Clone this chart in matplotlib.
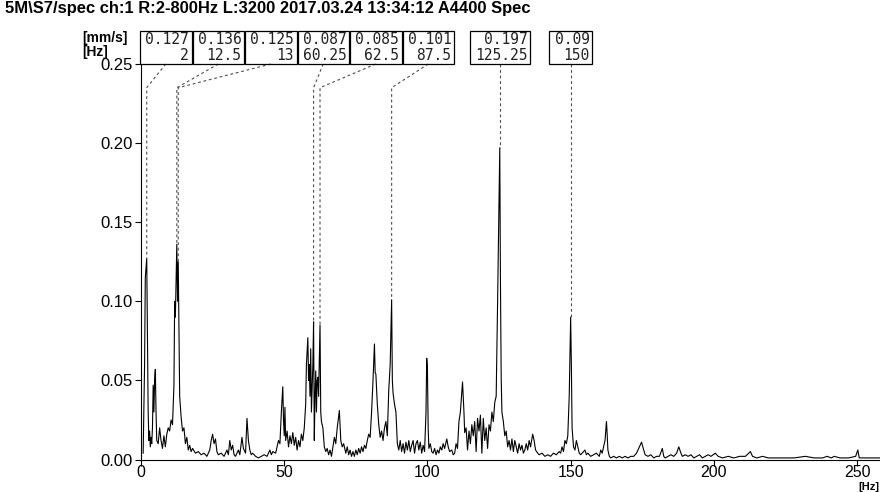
import matplotlib
matplotlib.use("Agg")
import matplotlib.pyplot as plt
from matplotlib.patches import Rectangle
from matplotlib.ticker import FormatStrFormatter

# spectrum: (frequency [Hz], amplitude [mm/s])
spectrum = [
    (0.75, 0.004), (1.25, 0.06), (1.5, 0.115), (2.0, 0.127), (2.25, 0.08), (2.5, 0.03),
    (2.75, 0.012), (3.0, 0.018), (3.25, 0.008), (3.5, 0.014), (3.75, 0.01), (4.0, 0.02),
    (4.25, 0.047), (4.5, 0.03), (4.75, 0.05), (5.0, 0.057), (5.25, 0.03), (5.5, 0.012),
    (6.0, 0.01), (6.5, 0.02), (7.0, 0.012), (7.5, 0.007), (8.0, 0.015), (8.5, 0.008),
    (9.0, 0.016), (9.5, 0.02), (10.0, 0.018), (10.5, 0.025), (11.0, 0.022), (11.5, 0.047),
    (11.75, 0.1), (12.0, 0.09), (12.5, 0.136), (12.75, 0.1), (13.0, 0.125), (13.25, 0.085),
    (13.5, 0.04), (14.0, 0.027), (14.5, 0.018), (15.0, 0.02), (15.5, 0.01), (16.0, 0.014),
    (16.5, 0.006), (17.0, 0.009), (17.5, 0.005), (18.0, 0.007), (19.0, 0.004), (20.0, 0.005),
    (21.0, 0.003), (22.0, 0.004), (23.0, 0.002), (24.0, 0.006), (24.5, 0.012), (25.0, 0.016),
    (25.5, 0.01), (26.0, 0.013), (26.5, 0.005), (27.0, 0.003), (28.0, 0.004), (29.0, 0.002),
    (30.0, 0.006), (30.5, 0.003), (31.0, 0.012), (31.5, 0.006), (32.0, 0.009), (32.5, 0.003),
    (33.0, 0.002), (34.0, 0.006), (34.5, 0.003), (35.25, 0.014), (35.75, 0.007), (36.5, 0.004),
    (37.0, 0.026), (37.5, 0.012), (38.0, 0.006), (38.5, 0.003), (39.0, 0.004), (40.0, 0.002),
    (41.0, 0.001), (42.0, 0.002), (43.0, 0.003), (44.0, 0.002), (45.0, 0.006), (45.5, 0.003),
    (46.0, 0.005), (47.0, 0.004), (47.5, 0.008), (48.0, 0.012), (48.5, 0.01), (49.0, 0.03),
    (49.5, 0.046), (49.75, 0.025), (50.0, 0.015), (50.25, 0.033), (50.5, 0.012), (51.0, 0.018),
    (51.5, 0.008), (52.0, 0.015), (52.5, 0.01), (53.0, 0.017), (53.5, 0.009), (54.0, 0.014),
    (54.5, 0.006), (55.0, 0.012), (55.5, 0.008), (56.0, 0.016), (56.5, 0.012), (57.0, 0.02),
    (57.5, 0.035), (57.75, 0.06), (58.25, 0.077), (58.5, 0.05), (58.75, 0.06), (59.0, 0.04),
    (59.25, 0.07), (59.5, 0.03), (60.0, 0.06), (60.25, 0.087), (60.5, 0.012), (60.75, 0.04),
    (61.0, 0.056), (61.25, 0.03), (61.5, 0.05), (61.75, 0.052), (62.0, 0.04), (62.5, 0.085),
    (62.75, 0.03), (63.0, 0.024), (63.5, 0.02), (64.0, 0.008), (64.5, 0.005), (65.0, 0.007),
    (65.5, 0.003), (66.0, 0.006), (66.5, 0.002), (67.0, 0.008), (67.5, 0.014), (68.0, 0.01),
    (68.5, 0.02), (69.25, 0.031), (69.75, 0.012), (70.25, 0.008), (70.75, 0.01), (71.5, 0.004),
    (72.0, 0.008), (72.5, 0.003), (73.0, 0.006), (73.5, 0.002), (74.0, 0.005), (74.5, 0.002),
    (75.0, 0.006), (75.5, 0.003), (76.0, 0.007), (76.5, 0.004), (77.0, 0.008), (77.5, 0.005),
    (78.0, 0.009), (78.5, 0.007), (79.0, 0.012), (79.5, 0.016), (80.0, 0.014), (80.5, 0.03),
    (81.0, 0.05), (81.5, 0.073), (81.75, 0.055), (82.0, 0.054), (82.5, 0.035), (83.0, 0.022),
    (83.5, 0.014), (84.0, 0.018), (84.5, 0.012), (85.0, 0.02), (85.5, 0.024), (86.0, 0.015),
    (86.5, 0.044), (87.0, 0.06), (87.5, 0.101), (87.75, 0.05), (88.0, 0.042), (88.5, 0.035),
    (89.0, 0.03), (89.5, 0.01), (90.0, 0.006), (90.5, 0.012), (91.0, 0.005), (91.5, 0.01),
    (92.0, 0.004), (92.5, 0.011), (93.0, 0.006), (93.5, 0.012), (94.0, 0.005), (94.5, 0.009),
    (95.0, 0.012), (95.5, 0.004), (96.0, 0.01), (96.5, 0.012), (97.0, 0.006), (97.5, 0.011),
    (98.0, 0.004), (98.5, 0.009), (99.0, 0.005), (99.5, 0.03), (99.75, 0.064), (100.0, 0.058),
    (100.25, 0.02), (100.5, 0.007), (101.0, 0.01), (101.5, 0.005), (102.0, 0.004), (102.5, 0.007),
    (103.0, 0.003), (103.5, 0.006), (104.0, 0.004), (104.5, 0.008), (105.0, 0.006), (105.5, 0.01),
    (106.0, 0.007), (106.75, 0.013), (107.25, 0.008), (107.75, 0.005), (108.5, 0.006), (109.0, 0.003),
    (109.5, 0.004), (110.0, 0.01), (110.5, 0.007), (111.0, 0.024), (111.5, 0.03), (112.25, 0.049),
    (112.75, 0.03), (113.0, 0.017), (113.5, 0.02), (114.0, 0.006), (114.5, 0.018), (115.0, 0.01),
    (115.5, 0.022), (116.0, 0.015), (116.5, 0.024), (117.0, 0.005), (117.5, 0.026), (118.0, 0.018),
    (118.5, 0.028), (119.0, 0.004), (119.5, 0.026), (120.0, 0.012), (120.5, 0.02), (121.0, 0.007),
    (121.5, 0.022), (122.0, 0.018), (122.5, 0.03), (123.0, 0.024), (123.5, 0.036), (124.0, 0.04),
    (124.5, 0.1), (125.25, 0.197), (125.5, 0.11), (125.75, 0.052), (126.0, 0.03), (126.5, 0.024),
    (127.0, 0.015), (127.5, 0.018), (128.0, 0.008), (128.5, 0.012), (129.0, 0.006), (129.5, 0.013),
    (130.0, 0.005), (130.5, 0.012), (131.0, 0.008), (131.5, 0.004), (132.0, 0.01), (132.5, 0.006),
    (133.0, 0.009), (133.5, 0.004), (134.0, 0.006), (134.5, 0.01), (135.0, 0.006), (135.5, 0.012),
    (136.0, 0.008), (136.75, 0.016), (137.25, 0.012), (137.75, 0.006), (138.5, 0.004), (139.0, 0.003),
    (140.0, 0.004), (141.0, 0.002), (142.0, 0.003), (143.0, 0.002), (144.0, 0.004), (145.0, 0.003),
    (146.0, 0.005), (146.5, 0.004), (147.0, 0.008), (147.5, 0.005), (148.0, 0.012), (148.5, 0.01),
    (149.0, 0.015), (149.5, 0.04), (150.0, 0.09), (150.25, 0.06), (150.5, 0.02), (151.0, 0.008),
    (151.5, 0.006), (152.0, 0.012), (152.5, 0.008), (153.0, 0.004), (153.5, 0.003), (154.0, 0.004),
    (155.0, 0.006), (155.5, 0.003), (156.0, 0.004), (157.0, 0.002), (158.0, 0.003), (159.0, 0.004),
    (160.0, 0.002), (160.5, 0.006), (161.0, 0.004), (161.5, 0.008), (162.0, 0.012), (162.5, 0.024),
    (162.75, 0.016), (163.0, 0.006), (163.5, 0.002), (164.0, 0.001), (165.0, 0.002), (166.0, 0.001),
    (167.0, 0.002), (168.0, 0.001), (169.0, 0.002), (170.0, 0.001), (171.0, 0.002), (172.0, 0.002),
    (173.0, 0.004), (174.0, 0.008), (174.75, 0.011), (175.5, 0.006), (176.0, 0.003), (177.0, 0.002),
    (178.0, 0.003), (179.0, 0.001), (180.0, 0.002), (181.0, 0.002), (182.0, 0.007), (182.5, 0.002),
    (183.0, 0.001), (184.0, 0.002), (185.0, 0.003), (186.0, 0.002), (187.0, 0.004), (187.75, 0.008),
    (188.5, 0.004), (189.0, 0.002), (190.0, 0.003), (191.0, 0.002), (192.0, 0.003), (193.0, 0.001),
    (194.0, 0.002), (195.0, 0.003), (196.0, 0.001), (197.0, 0.002), (198.0, 0.003), (199.0, 0.002),
    (200.5, 0.004), (201.5, 0.002), (203.0, 0.001), (205.0, 0.002), (207.0, 0.001), (209.0, 0.002),
    (211.0, 0.002), (212.75, 0.005), (213.5, 0.002), (215.0, 0.001), (217.0, 0.002), (219.0, 0.001),
    (222.0, 0.001), (225.0, 0.001), (228.0, 0.001), (232.0, 0.002), (235.0, 0.001), (238.0, 0.001),
    (239.5, 0.002), (241.0, 0.001), (242.0, 0.002), (244.0, 0.001), (247.0, 0.001), (249.5, 0.002),
    (250.25, 0.006), (250.75, 0.001), (253.0, 0.001), (256.0, 0.001), (258.0, 0.001),
]
freq_hz = [p[0] for p in spectrum]
amp_mms = [p[1] for p in spectrum]

# marked peaks
peak_freq = [2, 12.5, 13, 60.25, 62.5, 87.5, 125.25, 150]
peak_amp = [0.127, 0.136, 0.125, 0.087, 0.085, 0.101, 0.197, 0.09]
peak_amp_txt = ["0.127", "0.136", "0.125", "0.087", "0.085", "0.101", "0.197", "0.09"]
peak_freq_txt = ["2", "12.5", "13", "60.25", "62.5", "87.5", "125.25", "150"]

W, H = 880, 492
fig = plt.figure(figsize=(W / 100, H / 100), dpi=100)
ax = fig.add_axes([141 / W, 1 - 459.5 / H, 1 - 141 / W, (459.5 - 64) / H])

ax.plot(freq_hz, amp_mms, color="black", lw=0.8)
ax.set_xlim(0, 258)
ax.set_ylim(0, 0.25)
ax.set_xticks([0, 50, 100, 150, 200, 250])
ax.set_yticks([0, 0.05, 0.10, 0.15, 0.20, 0.25])
ax.yaxis.set_major_formatter(FormatStrFormatter("%.2f"))
ax.spines["top"].set_visible(False)
ax.spines["right"].set_visible(False)
ax.tick_params(direction="out", length=4, width=0.8, labelsize=12, pad=2)
ax.tick_params(axis="x", labelsize=11.5, pad=0)
for lab in ax.get_xticklabels() + ax.get_yticklabels():
    lab.set_family("Liberation Sans")

def to_fig(px, py):
    return px / W, 1 - py / H

# value boxes above the plot, pushed right so they do not overlap
fig.canvas.draw()
box_top, box_bot = 31, 64
prev_right = 139
for f, a, ta, tf in zip(peak_freq, peak_amp, peak_amp_txt, peak_freq_txt):
    px = ax.transData.transform((f, 0))[0]
    w = 8.5 * max(len(ta), len(tf)) + 9
    left = max(px - w / 2, prev_right + 1)
    prev_right = left + w
    x0, y0 = to_fig(left, box_bot)
    fig.patches.append(Rectangle((x0, y0), w / W, (box_bot - box_top) / H,
                                 transform=fig.transFigure, fill=False,
                                 edgecolor="black", lw=0.9))
    tx = (left + w - 2.5) / W
    fig.text(tx, 1 - 40 / H, ta, ha="right", va="center", family="DejaVu Sans Mono",
             fontsize=10.5, color="#222222")
    fig.text(tx, 1 - 55 / H, tf, ha="right", va="center", family="DejaVu Sans Mono",
             fontsize=10.5, color="#222222")
    # leader: box bottom -> peak column -> down to the peak
    cx = ax.transData.inverted().transform((left + w / 2, 0))[0]
    ax.plot([cx, f, f], [0.25, 0.235, a], color="0.3", lw=0.8,
            linestyle=(0, (2.5, 2.5)), clip_on=False)

fig.text(5 / W, 1 - 8 / H, r"5M\S7/spec ch:1 R:2-800Hz L:3200 2017.03.24 13:34:12 A4400 Spec",
         ha="left", va="center", family="Liberation Sans", weight="bold", fontsize=11.9)
fig.text(82 / W, 1 - 38 / H, "[mm/s]", ha="left", va="center", family="Liberation Sans",
         weight="bold", fontsize=10)
fig.text(82 / W, 1 - 52 / H, "[Hz]", ha="left", va="center", family="Liberation Sans",
         weight="bold", fontsize=10)
fig.text(879 / W, 0.5 / H, "[Hz]", ha="right", va="bottom", family="Liberation Sans",
         weight="bold", fontsize=8)

fig.savefig("out.png", dpi=100)
